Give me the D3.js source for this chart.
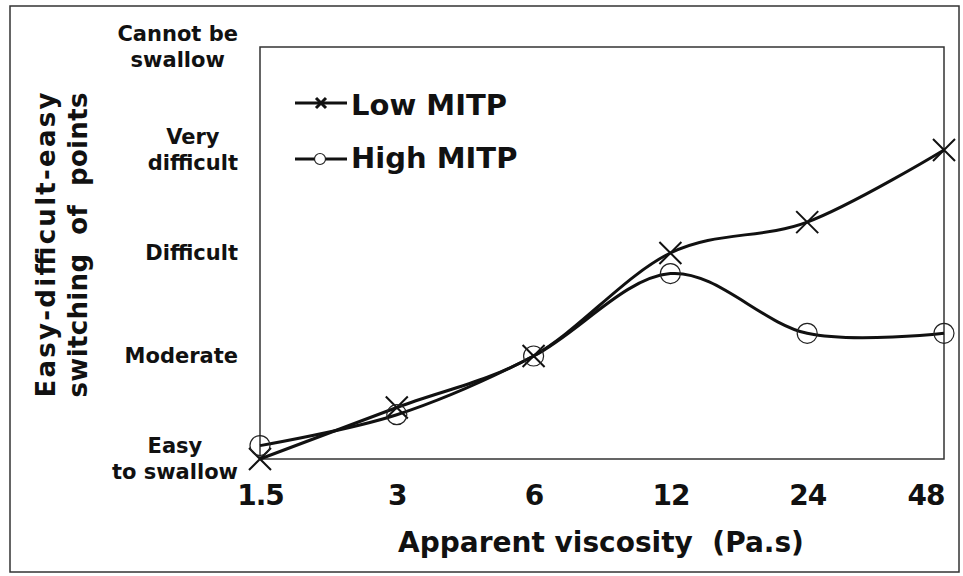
<!DOCTYPE html>
<html>
<head>
<meta charset="utf-8">
<script src="https://cdn.jsdelivr.net/npm/d3@7/dist/d3.min.js"></script>
<style>
  html, body { margin: 0; padding: 0; background: #fff; }
  svg { display: block; }
</style>
</head>
<body>
<svg id="chart" width="963" height="576"></svg>
<script>
// Apparent viscosity steps (Pa.s) and their tick labels
const viscosity = [1.5, 3, 6, 12, 24, 48];
const xTickLabels = ["1.5", "3", "6", "12", "24", "48"];

// Swallowing difficulty score per viscosity step
const lowMITP  = [1.0, 1.5, 2.0, 3.0, 3.3, 4.0];
const highMITP = [1.13, 1.43, 2.0, 2.8, 2.22, 2.22];

// Difficulty levels on the vertical axis
const levelValues = [1, 2, 3, 4, 5];
const levelLabels = [
  ["Easy", "to swallow"],
  ["Moderate"],
  ["Difficult"],
  ["Very", "difficult"],
  ["Cannot be", "swallow"]
];

const seriesNames = ["Low MITP", "High MITP"];

const svg = d3.select("#chart");
const W = 963, H = 576;
const plot = { left: 260, right: 944, top: 47, bottom: 459 };
const ink = "#111";
const sans = "'DejaVu Sans', Verdana, sans-serif";

// outer frame
svg.append("rect")
  .attr("x", 10).attr("y", 6)
  .attr("width", W - 14).attr("height", H - 10)
  .attr("fill", "none").attr("stroke", "#333").attr("stroke-width", 1.5);

const x = d3.scaleLog().base(2)
  .domain([viscosity[0], viscosity[viscosity.length - 1]])
  .range([plot.left, plot.right]);
const y = d3.scaleLinear()
  .domain([levelValues[0], levelValues[levelValues.length - 1]])
  .range([plot.bottom, plot.top]);

// plot box
svg.append("rect")
  .attr("x", plot.left).attr("y", plot.top)
  .attr("width", plot.right - plot.left).attr("height", plot.bottom - plot.top)
  .attr("fill", "none").attr("stroke", "#333").attr("stroke-width", 1.5);

// x tick labels
const xAxis = d3.axisBottom(x)
  .tickValues(viscosity)
  .tickFormat((d, i) => xTickLabels[i])
  .tickSize(0).tickPadding(0);
const gx = svg.append("g")
  .attr("transform", `translate(0,${plot.bottom})`)
  .call(xAxis);
gx.select(".domain").remove();
gx.selectAll("text")
  .attr("dy", null)
  .attr("y", 46)
  .attr("fill", ink)
  .style("font-family", sans)
  .style("font-weight", "bold")
  .style("font-size", "28px")
  .style("letter-spacing", "-1px")
  .each(function(d) {
    // keep the last label inside the plot's right edge
    const w = this.getComputedTextLength();
    const px = x(d);
    if (px + w / 2 > plot.right) {
      d3.select(this).attr("x", plot.right - w / 2 - px);
    }
  });

// y level labels (multi-line, block centred on the level)
const lineH = 26;
const gy = svg.append("g");
levelValues.forEach((v, i) => {
  const lines = levelLabels[i];
  const t = gy.append("text")
    .attr("fill", ink)
    .style("font-family", sans)
    .style("font-weight", "bold")
    .style("font-size", "21px")
    .attr("text-anchor", "middle");
  const y0 = y(v) + 7 - (lines.length - 1) * lineH / 2;
  lines.forEach((s, j) => {
    t.append("tspan").attr("y", y0 + j * lineH).text(s);
  });
  let maxW = 0;
  t.selectAll("tspan").each(function() { maxW = Math.max(maxW, this.getComputedTextLength()); });
  const cx = 238 - maxW / 2;
  t.selectAll("tspan").attr("x", cx);
});

// axis titles
svg.append("text")
  .attr("x", (plot.left + plot.right) / 2 - 1)
  .attr("y", 552)
  .attr("text-anchor", "middle")
  .attr("fill", ink)
  .style("font-family", sans)
  .style("font-weight", "bold")
  .style("font-size", "28px")
  .style("white-space", "pre")
  .text("Apparent viscosity  (Pa.s)");

const yTitle = svg.append("g").attr("transform", "translate(0,245) rotate(-90)");
[["Easy-difficult-easy", 55], ["switching  of  points", 87]].forEach(([s, bx]) => {
  yTitle.append("text")
    .attr("x", 0).attr("y", bx)
    .attr("text-anchor", "middle")
    .attr("fill", ink)
    .attr("textLength", 305)
    .attr("lengthAdjust", "spacing")
    .style("font-family", sans)
    .style("font-weight", "bold")
    .style("font-size", "26px")
    .style("white-space", "pre")
    .text(s);
});

// smoothed series lines
const line = d3.line()
  .x((d, i) => x(viscosity[i]))
  .y(d => y(d))
  .curve(d3.curveCardinal.tension(0));

function crossPath(cx, cy, r) {
  return `M${cx - r},${cy - r}L${cx + r},${cy + r}M${cx - r},${cy + r}L${cx + r},${cy - r}`;
}

[lowMITP, highMITP].forEach(vals => {
  svg.append("path")
    .attr("d", line(vals))
    .attr("fill", "none")
    .attr("stroke", ink)
    .attr("stroke-width", 3);
});

// markers
svg.append("g").selectAll("path")
  .data(lowMITP).join("path")
  .attr("d", (d, i) => crossPath(x(viscosity[i]), y(d), 11))
  .attr("stroke", ink).attr("stroke-width", 2).attr("fill", "none");

svg.append("g").selectAll("circle")
  .data(highMITP).join("circle")
  .attr("cx", (d, i) => x(viscosity[i]))
  .attr("cy", d => y(d))
  .attr("r", 10)
  .attr("stroke", "#222").attr("stroke-width", 1.2).attr("fill", "none");

// legend
const legend = svg.append("g");
seriesNames.forEach((name, i) => {
  const ly = 103 + i * 56;
  legend.append("line")
    .attr("x1", 295).attr("x2", 347).attr("y1", ly).attr("y2", ly)
    .attr("stroke", ink).attr("stroke-width", 3);
  if (i === 0) {
    legend.append("path").attr("d", crossPath(321, ly, 5))
      .attr("stroke", ink).attr("stroke-width", 3);
  } else {
    legend.append("circle").attr("cx", 320).attr("cy", ly).attr("r", 5.5)
      .attr("fill", "#fff").attr("stroke", "#222").attr("stroke-width", 1.2);
  }
  legend.append("text")
    .attr("x", 351).attr("y", ly + 12 - (i === 1 ? 3 : 0))
    .attr("fill", ink)
    .style("font-family", sans)
    .style("font-weight", "bold")
    .style("font-size", "29px")
    .text(name);
});
</script>
</body>
</html>
